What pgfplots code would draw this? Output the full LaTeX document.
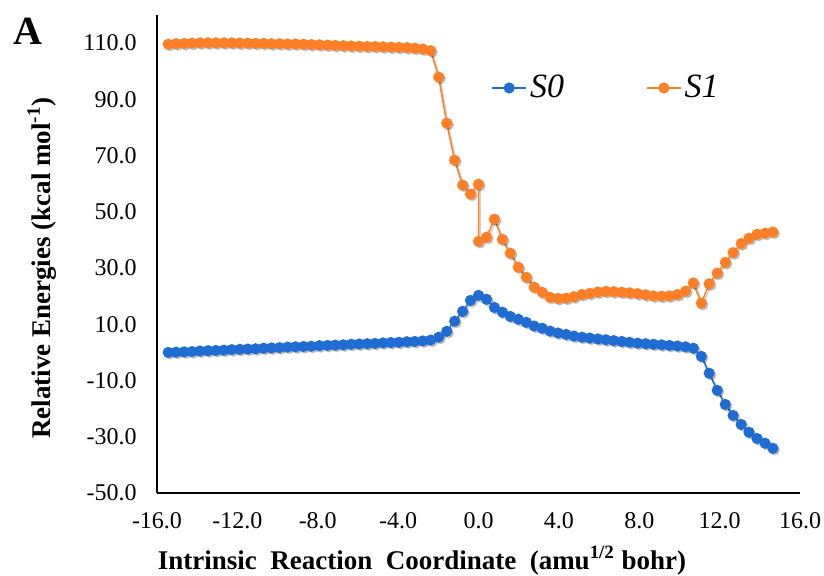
\documentclass[border=0pt]{standalone}
\usepackage{fontspec}
\setmainfont{Liberation Serif}
\usepackage{pgfplots}
\usepackage{pgfplotstable}
\pgfplotsset{compat=1.18}
\definecolor{sblue}{HTML}{1F6DD2}
\definecolor{sorange}{HTML}{FF7F27}
\pgfplotstableread{
x y
-15.44 0.0
-15.05 0.1
-14.65 0.2
-14.26 0.3
-13.86 0.5
-13.46 0.6
-13.07 0.7
-12.67 0.8
-12.28 1.0
-11.88 1.1
-11.48 1.2
-11.09 1.3
-10.69 1.5
-10.30 1.6
-9.90 1.7
-9.50 1.9
-9.11 2.0
-8.71 2.1
-8.32 2.2
-7.92 2.4
-7.52 2.5
-7.13 2.6
-6.73 2.7
-6.34 2.9
-5.94 3.0
-5.54 3.1
-5.15 3.2
-4.75 3.4
-4.36 3.5
-3.96 3.6
-3.56 3.8
-3.17 3.9
-2.77 4.1
-2.38 4.4
-1.98 5.4
-1.58 7.5
-1.19 11.1
-0.79 14.6
-0.40 18.5
0.00 20.3
0.40 18.9
0.79 16.0
1.19 14.3
1.58 12.8
1.98 11.8
2.38 10.7
2.77 9.4
3.17 8.6
3.56 7.6
3.96 6.9
4.36 6.4
4.75 5.8
5.15 5.4
5.54 5.1
5.94 4.8
6.34 4.5
6.73 4.2
7.13 3.9
7.52 3.6
7.92 3.3
8.32 3.1
8.71 2.9
9.11 2.7
9.50 2.5
9.90 2.3
10.30 2.0
10.69 1.5
11.09 -1.4
11.48 -7.4
11.88 -13.5
12.28 -18.5
12.67 -22.4
13.07 -25.6
13.46 -28.4
13.86 -30.6
14.26 -32.3
14.65 -34.1
}\sZero
\pgfplotstableread{
x y
-15.44 109.6
-15.05 109.8
-14.65 109.9
-14.26 110.0
-13.86 110.1
-13.46 110.1
-13.07 110.1
-12.67 110.1
-12.28 110.1
-11.88 110.0
-11.48 110.0
-11.09 109.9
-10.69 109.9
-10.30 109.8
-9.90 109.8
-9.50 109.7
-9.11 109.7
-8.71 109.6
-8.32 109.5
-7.92 109.4
-7.52 109.3
-7.13 109.2
-6.73 109.1
-6.34 109.0
-5.94 108.9
-5.54 108.8
-5.15 108.8
-4.75 108.7
-4.36 108.6
-3.96 108.5
-3.56 108.4
-3.17 108.2
-2.77 107.9
-2.38 107.3
-1.98 97.9
-1.58 81.5
-1.19 68.4
-0.79 59.5
-0.40 56.3
0.00 59.8
0.00 39.5
0.40 41.0
0.79 47.4
1.19 40.2
1.58 35.3
1.98 30.3
2.38 26.7
2.77 23.2
3.17 21.4
3.56 19.6
3.96 19.2
4.36 19.3
4.75 19.8
5.15 20.6
5.54 21.0
5.94 21.5
6.34 21.7
6.73 21.6
7.13 21.4
7.52 21.2
7.92 20.9
8.32 20.5
8.71 20.1
9.11 20.0
9.50 20.1
9.90 20.6
10.30 21.8
10.69 24.7
11.09 17.5
11.48 24.4
11.88 28.2
12.28 32.0
12.67 35.5
13.07 38.7
13.46 40.6
13.86 42.0
14.26 42.4
14.65 42.8
}\sOne
\begin{document}
\begin{tikzpicture}
\useasboundingbox (-78.5pt,-41pt) rectangle (333.5pt,246.5pt);
\begin{axis}[
  at={(0,0)}, anchor=south west,
  scale only axis, width=321.5pt, height=239pt,
  xmin=-16, xmax=16, ymin=-50, ymax=120,
  axis x line=bottom, axis y line=left,
  axis line style={-, line width=1.4pt, black},
  major tick length=0pt,
  xtick={-16,-12,-8,-4,0,4,8,12,16},
  xticklabels={-16.0,-12.0,-8.0,-4.0,0.0,4.0,8.0,12.0,16.0},
  ytick={-50,-30,-10,10,30,50,70,90,110},
  yticklabels={-50.0,-30.0,-10.0,10.0,30.0,50.0,70.0,90.0,110.0},
  tick label style={font=\fontsize{12}{14}\selectfont},
  xticklabel style={anchor=north, inner sep=0pt, yshift=-9.5pt},
  yticklabel style={anchor=east, inner sep=0pt, xshift=-10pt},
  xlabel={Intrinsic\ \ Reaction\ \ Coordinate\ \ (amu\textsuperscript{1/2} bohr)},
  ylabel={Relative Energies (kcal mol\textsuperscript{-1})},
  every axis x label/.style={at={(axis description cs:0.4121,-0.159)}, anchor=base, font=\fontsize{13.5}{15}\selectfont\bfseries},
  every axis y label/.style={at={(axis description cs:-0.1789,0.4707)}, rotate=90, anchor=center, font=\fontsize{13.5}{15}\selectfont\bfseries},
  legend columns=2,
  legend style={draw=none, fill=none, inner sep=0pt, at={(axis description cs:0.5194,0.8473)}, anchor=west,
    font=\fontsize{17}{20}\selectfont\itshape, nodes={inner sep=1.5pt},
    /tikz/every even column/.append style={column sep=39.5pt}},
  legend cell align=left,
  clip=false,
]
\addplot[forget plot, color=black, opacity=0.18, line width=0.75pt, mark=*, mark size=2.4pt, xshift=0.8pt, yshift=-0.8pt] table {\sZero};
\addplot[forget plot, color=black, opacity=0.18, line width=0.75pt, mark=*, mark size=2.4pt, xshift=0.8pt, yshift=-0.8pt] table {\sOne};
\addplot[color=sblue, line width=0.75pt, mark=*, mark size=2.4pt, mark options={fill=sblue, draw=sblue}] table {\sZero};
\addlegendentry{S0}
\addplot[color=sorange, line width=0.75pt, mark=*, mark size=2.4pt, mark options={fill=sorange, draw=sorange}] table {\sOne};
\addlegendentry{S1}
\end{axis}
\node[font=\fontsize{20}{22}\selectfont\bfseries, inner sep=0pt] at (-64.5pt,230.75pt) {A};
\end{tikzpicture}
\end{document}
